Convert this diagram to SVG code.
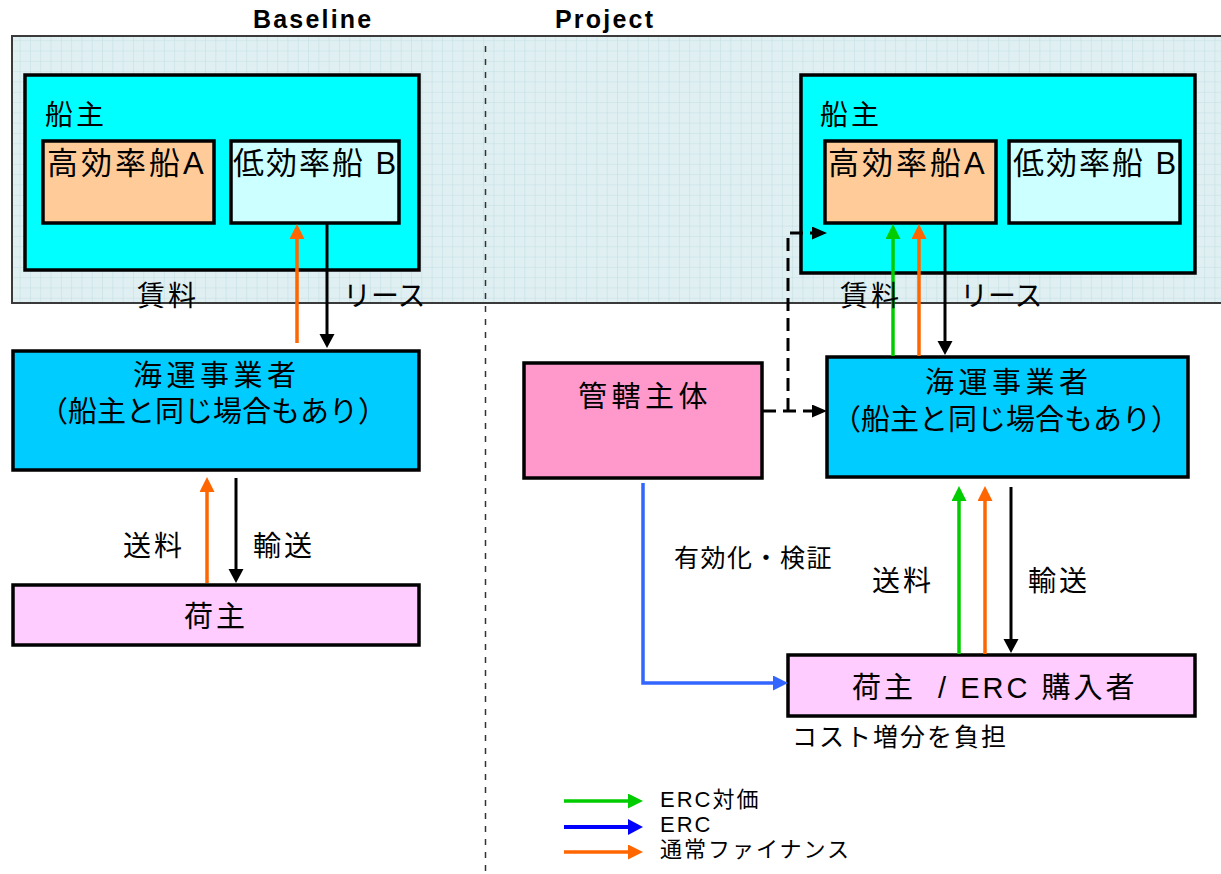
<svg xmlns="http://www.w3.org/2000/svg" width="1221" height="874" viewBox="0 0 1221 874">
<style>
  text { font-family: "Liberation Sans", "Noto Sans CJK JP", sans-serif; fill: #000; }
  .hdr { font-size: 25px; font-weight: bold; letter-spacing: 2.2px; }
  .box { stroke: #000; stroke-width: 3.5; }
  .lbl { font-size: 28px; }
  .ship { font-size: 31px; }
  .sm { font-size: 25px; }
  .leg { font-size: 22px; letter-spacing: 2px; }
  .k { stroke: #000; stroke-width: 3; fill: none; }
  .g { stroke: #00cc00; stroke-width: 3.5; fill: none; }
  .o { stroke: #ff6600; stroke-width: 3.5; fill: none; }
  .b { stroke: #3366ff; stroke-width: 3.5; fill: none; }
  .bb { stroke: #0000ff; stroke-width: 4; fill: none; }
  .dash { stroke: #000; stroke-width: 3; fill: none; stroke-dasharray: 13 7; }
</style>
<defs>
  <pattern id="grid" width="10.3" height="10.3" patternUnits="userSpaceOnUse">
    <rect width="10.3" height="10.3" fill="#e0eff2"/>
    <path d="M10.3,0 V10.3 M0,10.3 H10.3" stroke="#c0dfe2" stroke-width="1" fill="none"/>
  </pattern>
  <marker id="ak" markerUnits="userSpaceOnUse" markerWidth="16" markerHeight="16" refX="4" refY="7.5" orient="auto"><path d="M0,0 L14,7.5 L0,15 z" fill="#000"/></marker>
  <marker id="ag" markerUnits="userSpaceOnUse" markerWidth="16" markerHeight="16" refX="4" refY="7.5" orient="auto"><path d="M0,0 L15,7.5 L0,15 z" fill="#00cc00"/></marker>
  <marker id="ao" markerUnits="userSpaceOnUse" markerWidth="16" markerHeight="16" refX="4" refY="7.5" orient="auto"><path d="M0,0 L15,7.5 L0,15 z" fill="#ff6600"/></marker>
  <marker id="ab" markerUnits="userSpaceOnUse" markerWidth="16" markerHeight="16" refX="4" refY="7.5" orient="auto"><path d="M0,0 L15,7.5 L0,15 z" fill="#3366ff"/></marker>
  <marker id="abb" markerUnits="userSpaceOnUse" markerWidth="17" markerHeight="17" refX="4" refY="8" orient="auto"><path d="M0,0 L15,8 L0,16 z" fill="#0000ff"/></marker>
  <marker id="ad" markerUnits="userSpaceOnUse" markerWidth="16" markerHeight="16" refX="4" refY="6.5" orient="auto"><path d="M0,0 L15,6.5 L0,13 z" fill="#000"/></marker>
</defs>
<rect width="1221" height="874" fill="#fff"/>

<!-- background panel -->
<rect x="12" y="36" width="1215" height="267" fill="url(#grid)" stroke="#3a3a3a" stroke-width="2"/>
<line x1="485.5" y1="46" x2="485.5" y2="874" stroke="#333" stroke-width="1.5" stroke-dasharray="6 7"/>

<text class="hdr" x="253" y="28">Baseline</text>
<text class="hdr" x="555" y="28">Project</text>

<!-- Baseline nodes -->
<g id="owner-base">
  <rect class="box" x="25" y="75" width="394" height="195" fill="#00ffff"/>
  <text class="lbl" x="45" y="125" style="letter-spacing:3px">船主</text>
</g>
<g id="shipA-base">
  <rect class="box" x="43" y="141" width="171" height="82" fill="#ffcc99"/>
  <text class="ship" x="47" y="174" style="letter-spacing:3px">高効率船A</text>
</g>
<g id="shipB-base">
  <rect class="box" x="231" y="141" width="168" height="82" fill="#ccffff"/>
  <text class="ship" x="233" y="174" style="letter-spacing:2px">低効率船 B</text>
</g>
<g id="operator-base">
  <rect class="box" x="13" y="351" width="406" height="119" fill="#00ccff"/>
  <text class="lbl" x="133" y="386" style="font-size:29px;letter-spacing:4.5px">海運事業者</text>
  <text class="lbl" x="39" y="422" style="font-size:29px;letter-spacing:0px">（船主と同じ場合もあり）</text>
</g>
<g id="shipper-base">
  <rect class="box" x="13" y="585" width="406" height="60" fill="#ffccff"/>
  <text class="lbl" x="184" y="627" style="font-size:29px;letter-spacing:3px">荷主</text>
</g>

<!-- Project nodes -->
<g id="owner-proj">
  <rect class="box" x="801" y="75" width="394" height="198" fill="#00ffff"/>
  <text class="lbl" x="820" y="125" style="letter-spacing:3px">船主</text>
</g>
<g id="shipA-proj">
  <rect class="box" x="825" y="141" width="171" height="82" fill="#ffcc99"/>
  <text class="ship" x="828" y="174" style="letter-spacing:3px">高効率船A</text>
</g>
<g id="shipB-proj">
  <rect class="box" x="1009" y="141" width="171" height="82" fill="#ccffff"/>
  <text class="ship" x="1013" y="174" style="letter-spacing:2px">低効率船 B</text>
</g>
<g id="authority">
  <rect class="box" x="524" y="363" width="238" height="115" fill="#ff99cc"/>
  <text class="lbl" x="578" y="407" style="font-size:29px;letter-spacing:4.5px">管轄主体</text>
</g>
<g id="operator-proj">
  <rect class="box" x="827" y="357" width="361" height="120" fill="#00ccff"/>
  <text class="lbl" x="925" y="393" style="font-size:29px;letter-spacing:4.5px">海運事業者</text>
  <text class="lbl" x="832" y="430" style="font-size:29px;letter-spacing:0px">（船主と同じ場合もあり）</text>
</g>
<g id="shipper-proj">
  <rect class="box" x="788" y="655" width="407" height="61" fill="#ffccff"/>
  <text class="lbl" x="852" y="698" style="font-size:29px;letter-spacing:3px" xml:space="preserve">荷主  / ERC 購入者</text>
</g>

<!-- connectors -->
<g id="connectors">
  <path class="o" d="M297,343 V235" marker-end="url(#ao)"/>
  <path class="k" d="M327,224 V338" marker-end="url(#ak)"/>
  <path class="o" d="M207,583 V488" marker-end="url(#ao)"/>
  <path class="k" d="M236,478 V573" marker-end="url(#ak)"/>

  <path class="g" d="M893,356 V235" marker-end="url(#ag)"/>
  <path class="o" d="M919,356 V235" marker-end="url(#ao)"/>
  <path class="k" d="M945,224 V345" marker-end="url(#ak)"/>

  <path class="g" d="M959,654 V497" marker-end="url(#ag)"/>
  <path class="o" d="M985,654 V497" marker-end="url(#ao)"/>
  <path class="k" d="M1011,487 V643" marker-end="url(#ak)"/>

  <path class="b" d="M643,483 V683 H777" marker-end="url(#ab)"/>

  <path class="dash" d="M763,411 H816" marker-end="url(#ad)"/>
  <path class="dash" d="M788,411 V233 H816" marker-end="url(#ad)"/>

  <path class="g" d="M564,801 H632" marker-end="url(#ag)"/>
  <path class="bb" d="M564,827 H632" marker-end="url(#abb)"/>
  <path class="o" d="M564,852 H632" marker-end="url(#ao)"/>
</g>

<!-- connector labels -->
<text class="lbl" x="137" y="306" style="letter-spacing:3px">賃料</text>
<text class="lbl" x="343" y="306">リース</text>
<text class="lbl" x="123" y="556" style="letter-spacing:3px">送料</text>
<text class="lbl" x="253" y="556" style="letter-spacing:3px">輸送</text>

<text class="lbl" x="840" y="306" style="letter-spacing:3px">賃料</text>
<text class="lbl" x="960" y="306">リース</text>
<text class="sm" x="674" y="567" style="letter-spacing:1.5px">有効化・検証</text>
<text class="lbl" x="872" y="591" style="letter-spacing:3px">送料</text>
<text class="lbl" x="1028" y="591" style="letter-spacing:3px">輸送</text>
<text class="sm" x="792" y="746" style="letter-spacing:2px">コスト増分を負担</text>

<!-- legend -->
<text class="leg" x="660" y="807">ERC対価</text>
<text class="leg" x="660" y="832">ERC</text>
<text class="leg" x="660" y="857">通常ファイナンス</text>
</svg>
